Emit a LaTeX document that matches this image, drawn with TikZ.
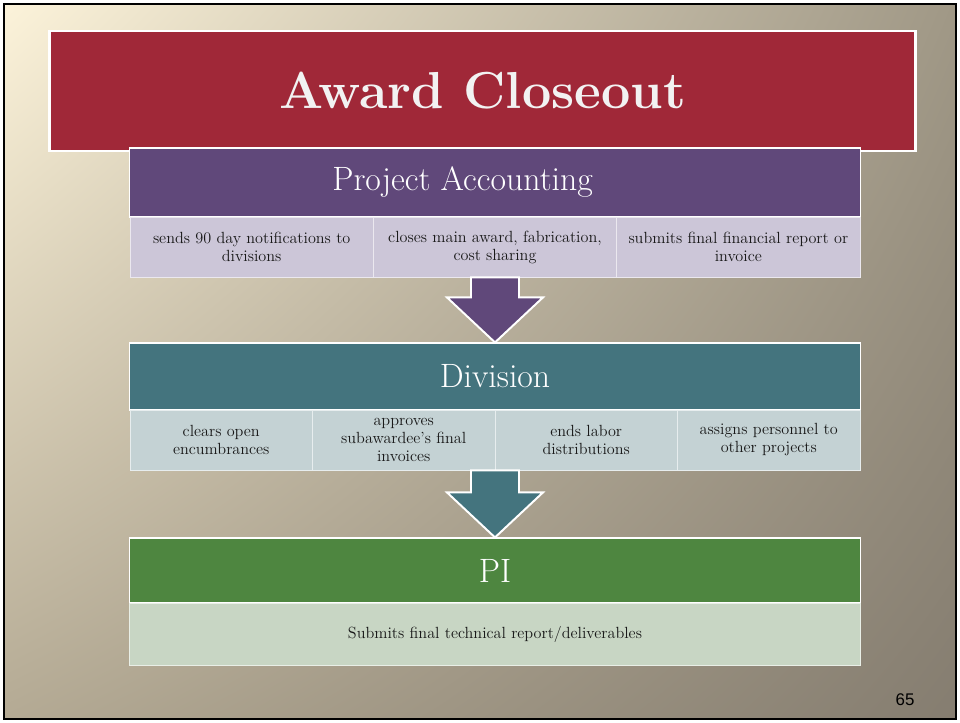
\documentclass[tikz,border=0pt]{standalone}
\usepackage{fontspec}
\newfontfamily\pagefont{Liberation Sans}
\usetikzlibrary{positioning, calc, shadings}
\definecolor{titlered}{RGB}{160,40,56}
\definecolor{acctpurple}{RGB}{96,72,122}
\definecolor{divteal}{RGB}{68,116,126}
\definecolor{pigreen}{RGB}{78,134,64}
\definecolor{acctcell}{RGB}{204,198,216}
\definecolor{divcell}{RGB}{196,210,212}
\definecolor{picell}{RGB}{200,214,196}
\definecolor{celltext}{RGB}{24,24,24}
\definecolor{bgul}{RGB}{252,243,218}
\definecolor{bgur}{RGB}{160,152,134}
\definecolor{bgll}{RGB}{180,170,148}
\definecolor{bglr}{RGB}{133,125,112}
\tikzset{
  titlebox/.style={rectangle, draw=white, line width=2pt, fill=titlered,
                   minimum width=21.625cm, minimum height=3cm, text=white!90!gray,
                   font=\fontsize{37}{44}\selectfont\bfseries},
  headbox/.style={rectangle, draw=white, line width=0.8pt, fill=#1,
                  minimum width=18.25cm, text=white,
                  font=\fontsize{24}{28}\selectfont},
  cellbox/.style={rectangle, draw=white!60!#1, line width=0.6pt, fill=#1,
                  minimum height=1.5cm, align=center, text=celltext,
                  font=\fontsize{11.5}{12.8}\selectfont},
  blockarrow/.style={draw=white, line width=1.4pt, fill=#1, line join=miter},
}

\begin{document}
\begin{tikzpicture}[x=0.025cm, y=-0.025cm]
    % slide background
    \useasboundingbox (0,0) rectangle (960,723);
    \shade[upper left=bgul, upper right=bgur, lower left=bgll, lower right=bglr]
      (4,4) rectangle (956,719);
    \draw[black, line width=1.8pt] (4,4) rectangle (956,719);

    \node[titlebox] (title) at (482.5,91) {Award Closeout};

    % Project Accounting
    \node[headbox=acctpurple, minimum height=1.725cm] (acct) at (495,182.5)
      {\hspace*{-1.62cm}Project Accounting};
    \foreach \x/\n/\txt in {
      251.67/1/{sends 90 day notifications to\\divisions},
      495/2/{closes main award, fabrication,\\cost sharing},
      738.33/3/{submits final financial report or\\invoice}}{
      \node[cellbox=acctcell, minimum width=6.083cm] (acct\n) at (\x,247) {\txt};
    }

    % Division
    \node[headbox=divteal, minimum height=1.675cm] (div) at (495,376.5) {Division};
    \foreach \x/\n/\txt in {
      221.25/1/{clears open\\encumbrances},
      403.75/2/{approves\\subawardee's final\\invoices},
      586.25/3/{ends labor\\distributions},
      768.75/4/{assigns personnel to\\other projects}}{
      \node[cellbox=divcell, minimum width=4.5625cm] (div\n) at (\x,440) {\txt};
    }

    % PI
    \node[headbox=pigreen, minimum height=1.625cm] (pi) at (495,570.5) {PI};
    \node[cellbox=picell, minimum width=18.25cm, minimum height=1.55cm] (pi1) at (495,634)
      {Submits final technical report/deliverables};

    % block arrows
    \draw[blockarrow=acctpurple] ($(acct2.south)+(-24,0)$) -- ++(0,20) -- ++(-24,0)
      -- (div.north) -- ($(acct2.south)+(48,20)$) -- ++(-24,0) -- ++(0,-20) -- cycle;
    \draw[blockarrow=divteal] ($(acct2.south|-div2.south)+(-24,0)$) -- ++(0,22) -- ++(-24,0)
      -- (pi.north) -- ($(acct2.south|-div2.south)+(48,22)$) -- ++(-24,0) -- ++(0,-22) -- cycle;

    \node[font=\pagefont\fontsize{12}{14}\selectfont] (pagenum) at (905,700) {65};
\end{tikzpicture}
\end{document}
